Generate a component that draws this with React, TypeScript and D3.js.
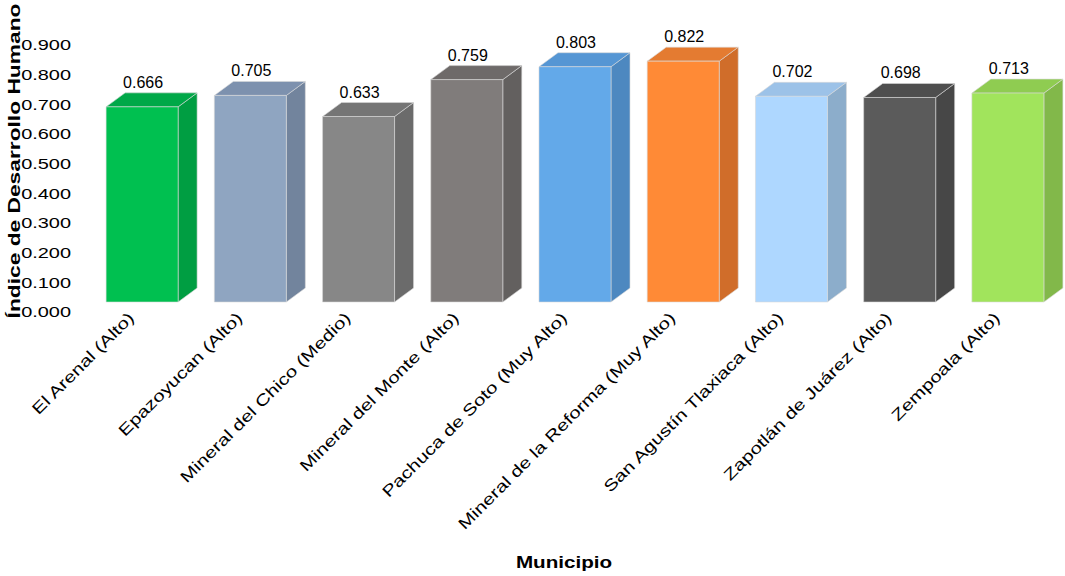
import React from "react";
import * as d3 from "d3";

const categories = [
  "El Arenal (Alto)",
  "Epazoyucan (Alto)",
  "Mineral del Chico (Medio)",
  "Mineral del Monte (Alto)",
  "Pachuca de Soto (Muy Alto)",
  "Mineral de la Reforma (Muy Alto)",
  "San Agustín Tlaxiaca (Alto)",
  "Zapotlán de Juárez (Alto)",
  "Zempoala (Alto)",
];
const values = [0.666, 0.705, 0.633, 0.759, 0.803, 0.822, 0.702, 0.698, 0.713];
const tickValues = [0, 0.1, 0.2, 0.3, 0.4, 0.5, 0.6, 0.7, 0.8, 0.9];

const frontColors = ["#00C050", "#8FA5C1", "#878787", "#807C7B", "#63A9E9", "#FF8A36", "#AED7FF", "#5B5B5B", "#A1E45C"];
const topColors = ["#00A848", "#7D91AE", "#757575", "#6E6A69", "#5596D4", "#E47B31", "#9CC2E8", "#4E4E4E", "#8FCC51"];
const sideColors = ["#009E42", "#72849D", "#6B6B6B", "#63605F", "#4D88C0", "#D06D2A", "#8CADCB", "#474747", "#82B84A"];

const W = 1065;
const H = 576;
const DX = 19;
const DY = 14;

export default function App() {
  const x = d3
    .scaleBand<string>()
    .domain(categories)
    .range([88, 1062])
    .paddingInner(0.3346)
    .paddingOuter(0.1673);
  const yBar = d3.scaleLinear().domain([0, 1]).range([302, 9]);
  const yTick = d3.scaleLinear().domain([0, 0.9]).range([312, 45]);
  const fmt = d3.format(".3f");
  const bw = x.bandwidth();
  const font = "'Liberation Sans', Arial, sans-serif";

  return (
    <svg
      width={W}
      height={H}
      style={{ position: "absolute", left: 0, top: 0, background: "#fff" }}
      fontFamily={font}
    >
      {/* Y axis title */}
      <text
        transform={`translate(20,161) rotate(-90) scale(1.34,1)`}
        textAnchor="middle"
        fontSize={17}
        fontWeight="bold"
        fill="#000"
      >
        Índice de Desarrollo Humano
      </text>
      {/* Y tick labels */}
      {tickValues.map((t) => (
        <text
          key={t}
          transform={`translate(71,${yTick(t)}) scale(1.33,1)`}
          textAnchor="end"
          dy="0.36em"
          fontSize={15}
          fill="#000"
        >
          {fmt(t)}
        </text>
      ))}
      {/* Bars */}
      {categories.map((c, i) => {
        const x0 = x(c)!;
        const x1 = x0 + bw;
        const yt = yBar(values[i]);
        const yb = yBar(0);
        const front = `M${x0},${yt}L${x1},${yt}L${x1},${yb}L${x0},${yb}Z`;
        const top = `M${x0},${yt}L${x0 + DX},${yt - DY}L${x1 + DX},${yt - DY}L${x1},${yt}Z`;
        const side = `M${x1},${yt}L${x1 + DX},${yt - DY}L${x1 + DX},${yb - DY}L${x1},${yb}Z`;
        return (
          <g key={c}>
            <path d={side} fill={sideColors[i]} stroke="#d8d8d8" strokeWidth={0.6} />
            <path d={top} fill={topColors[i]} stroke="#d8d8d8" strokeWidth={0.6} />
            <path d={front} fill={frontColors[i]} stroke="#d8d8d8" strokeWidth={0.6} />
            <text
              x={x0 + bw / 2 + 1}
              y={yt - 19}
              textAnchor="middle"
              fontSize={16}
              fill="#000"
            >
              {fmt(values[i])}
            </text>
          </g>
        );
      })}
      {/* Category labels */}
      {categories.map((c) => (
        <text
          key={"l" + c}
          transform={`translate(${x(c)! + bw / 2 - 7},${319}) rotate(-45) scale(1.28,1)`}
          textAnchor="end"
          fontSize={16}
          fill="#000"
        >
          {c}
        </text>
      ))}
      {/* X axis title */}
      <text
        transform={`translate(564,568) scale(1.29,1)`}
        textAnchor="middle"
        fontSize={16}
        fontWeight="bold"
        fill="#000"
      >
        Municipio
      </text>
    </svg>
  );
}
